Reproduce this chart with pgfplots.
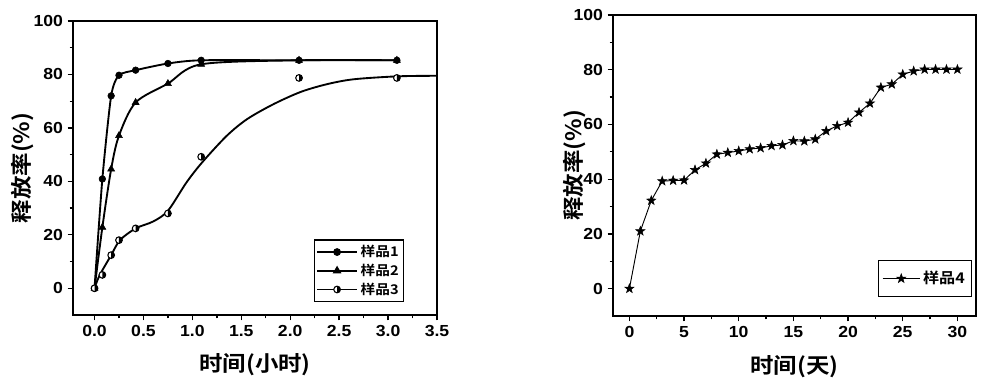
\documentclass[border=0pt]{standalone}
\usepackage{fontspec}
\setmainfont{Liberation Sans}[FakeStretch=1.1]
\newfontfamily\cjk{Noto Sans CJK SC}[BoldFont={Noto Sans CJK SC Bold},FakeStretch=1.1]
\usepackage{pgfplots}
\pgfplotsset{compat=1.18}

\pgfdeclareplotmark{halfcirc}{%
  \pgfpathcircle{\pgfpointorigin}{\pgfplotmarksize}%
  \pgfsetfillcolor{white}\pgfusepathqfillstroke
  \pgfpathmoveto{\pgfqpoint{0pt}{\pgfplotmarksize}}%
  \pgfpatharc{90}{-90}{\pgfplotmarksize}%
  \pgfpathclose
  \pgfsetfillcolor{black}\pgfusepathqfill
}
\pgfdeclareplotmark{fstar}{%
  \pgfpathmoveto{\pgfqpoint{0pt}{\pgfplotmarksize}}%
  \pgfpathlineto{\pgfqpoint{-0.235\pgfplotmarksize}{0.324\pgfplotmarksize}}%
  \pgfpathlineto{\pgfqpoint{-0.951\pgfplotmarksize}{0.309\pgfplotmarksize}}%
  \pgfpathlineto{\pgfqpoint{-0.380\pgfplotmarksize}{-0.124\pgfplotmarksize}}%
  \pgfpathlineto{\pgfqpoint{-0.588\pgfplotmarksize}{-0.809\pgfplotmarksize}}%
  \pgfpathlineto{\pgfqpoint{0pt}{-0.4\pgfplotmarksize}}%
  \pgfpathlineto{\pgfqpoint{0.588\pgfplotmarksize}{-0.809\pgfplotmarksize}}%
  \pgfpathlineto{\pgfqpoint{0.380\pgfplotmarksize}{-0.124\pgfplotmarksize}}%
  \pgfpathlineto{\pgfqpoint{0.951\pgfplotmarksize}{0.309\pgfplotmarksize}}%
  \pgfpathlineto{\pgfqpoint{0.235\pgfplotmarksize}{0.324\pgfplotmarksize}}%
  \pgfpathclose
  \pgfusepathqfillstroke
}

\pgfplotstableread{
x y
0 0
0.08 40.9
0.17 72
0.25 79.7
0.42 81.6
0.75 84.1
1.09 85.3
2.09 85.3
3.09 85.3
}\sone
\pgfplotstableread{
x y
0 0
0.08 22.8
0.17 44.6
0.25 57.1
0.42 69.5
0.75 76.6
1.09 83.8
2.09 85.3
3.09 85.3
}\stwo
\pgfplotstableread{
x y
0 0
0.08 5
0.17 12.4
0.25 18
0.42 22.4
0.75 28
1.09 49.2
2.09 78.7
3.09 78.7
}\sthree
\pgfplotstableread{
x y
0 0
0.05 4.7
0.17 12.4
0.26 18
0.42 22.4
0.6 25
0.75 29
0.94 39.6
1.10 47.1
1.35 57
1.56 63.3
1.83 68.9
2.11 73.5
2.38 76.4
2.65 78.2
3.1 79.3
3.5 79.5
}\sthreefit
\pgfplotstableread{
x y
0 0
1 21
2 32.2
3 39.3
4 39.5
5 39.6
6 43.4
7 45.8
8 49.1
9 49.7
10 50.3
11 51
12 51.4
13 52.2
14 52.5
15 54
16 53.9
17 54.6
18 57.6
19 59.5
20 60.7
21 64.4
22 67.7
23 73.5
24 74.7
25 78.3
26 79.5
27 80.1
28 80.1
29 80.1
30 80.1
}\sfour

\pgfplotsset{
  mystyle/.style={
    scale only axis,
    axis line style={line width=1.3pt},
    tick style={line width=1pt, black},
    tick align=outside,
    tick pos=left,
    major tick length=4pt,
    minor tick length=2.5pt,
    tick label style={font=\fontsize{12}{12}\selectfont\bfseries},
    /pgf/number format/assume math mode=true,
    label style={font=\fontsize{16}{17}\selectfont\cjk\bfseries},
    ylabel style={at={(rel axis cs:0,0.5)}, anchor=center},
    xlabel style={at={(rel axis cs:0.5,0)}, anchor=center},
  },
  legA/.style={legend image code/.code={\draw[black,line width=1.4pt] (0pt,0pt)--(30pt,0pt); \draw[##1] plot coordinates {(15pt,0pt)};}},
  legB/.style={legend image code/.code={\draw[black,line width=0.7pt] (0pt,0pt)--(28pt,0pt); \draw[##1, only marks] plot coordinates {(14pt,0pt)};}},
}

\begin{document}
\begin{tikzpicture}
\path[use as bounding box] (0,0) rectangle (750pt,291pt);

\begin{axis}[mystyle,
  at={(54.75pt,54.75pt)}, anchor=south west,
  width=273pt, height=220.5pt,
  xmin=-0.22, xmax=3.5, ymin=-10, ymax=100,
  xtick={0,0.5,...,3.5}, minor x tick num=1,
  ytick={0,20,...,100}, minor y tick num=1,
  xticklabel style={/pgf/number format/.cd, fixed, fixed zerofill, precision=1},
  xlabel={时间(小时)}, ylabel={释放率(\%)},
  xlabel style={yshift=-37pt}, ylabel style={yshift=38pt},
  legend style={at={(rel axis cs:0.909,0.044)}, anchor=south east,
    draw=black, line width=0.8pt, inner xsep=1.5pt, inner ysep=2pt, row sep=0pt,
    font=\fontsize{10}{11}\selectfont\cjk\bfseries, legend cell align=left},
]
\addplot[black, line width=1.4pt, smooth, tension=0.4, forget plot] table[x=x,y=y] {\sone};
\addplot[black, line width=1.4pt, smooth, tension=0.5, forget plot] table[x=x,y=y] {\stwo};
\addplot[black, line width=1.4pt, smooth, tension=0.5, forget plot] table[x=x,y=y] {\sthreefit};
\addplot[black, only marks, mark=*, mark size=2.5pt, legA] table[x=x,y=y] {\sone};
\addlegendentry{样品1}
\addplot[black, only marks, mark=triangle*, mark size=3pt, legA] table[x=x,y=y] {\stwo};
\addlegendentry{样品2}
\addplot[black, only marks, mark=halfcirc, mark size=2.5pt, line width=0.8pt, legA] table[x=x,y=y] {\sthree};
\addlegendentry{样品3}
\end{axis}

\begin{axis}[mystyle,
  at={(459.75pt,54pt)}, anchor=south west,
  width=272.25pt, height=225.75pt,
  xmin=-1.5, xmax=31.7, ymin=-10, ymax=100,
  xtick={0,5,...,30}, minor x tick num=1,
  ytick={0,20,...,100}, minor y tick num=1,
  xlabel={时间(天)}, ylabel={释放率(\%)},
  xlabel style={yshift=-38pt}, ylabel style={yshift=29pt},
  legend style={at={(rel axis cs:0.989,0.063)}, anchor=south east,
    draw=black, line width=0.8pt, inner xsep=3pt, inner ysep=6pt,
    font=\fontsize{11}{12}\selectfont\cjk\bfseries, legend cell align=left},
]
\addplot[black, line width=0.7pt, mark=fstar, mark size=3.6pt,
  mark options={line width=0.4pt, fill=black}, legB]
  table[x=x,y=y] {\sfour};
\addlegendentry{样品4}
\end{axis}
\end{tikzpicture}
\end{document}
